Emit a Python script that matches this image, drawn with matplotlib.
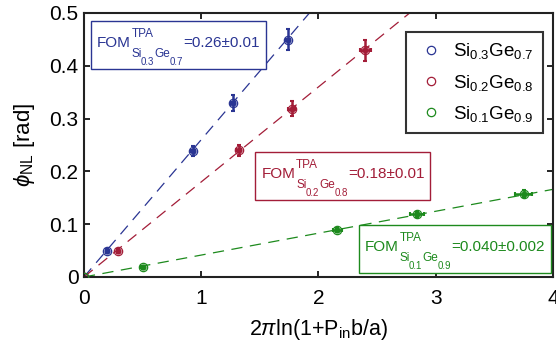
import numpy as np
import matplotlib
matplotlib.use("Agg")
import matplotlib.pyplot as plt
import matplotlib.transforms as mtransforms
from matplotlib.patches import Rectangle

plt.rcParams["font.family"] = ["Liberation Sans", "DejaVu Sans"]
plt.rcParams["mathtext.fontset"] = "custom"
plt.rcParams["mathtext.rm"] = "Liberation Sans"
plt.rcParams["mathtext.it"] = "Liberation Sans:italic"
plt.rcParams["mathtext.bf"] = "Liberation Sans:bold"

# data
labels = [r"Si$_{0.3}$Ge$_{0.7}$", r"Si$_{0.2}$Ge$_{0.8}$", r"Si$_{0.1}$Ge$_{0.9}$"]
colors = ["#2a3593", "#a31d38", "#1d8a1d"]

x_sige37 = [0.20, 0.93, 1.27, 1.74]
y_sige37 = [0.049, 0.239, 0.329, 0.449]
xerr_sige37 = [0.01, 0.02, 0.02, 0.02]
yerr_sige37 = [0.004, 0.010, 0.015, 0.020]

x_sige28 = [0.29, 1.32, 1.77, 2.40]
y_sige28 = [0.049, 0.240, 0.319, 0.429]
xerr_sige28 = [0.01, 0.02, 0.03, 0.05]
yerr_sige28 = [0.004, 0.010, 0.015, 0.019]

x_sige19 = [0.50, 2.16, 2.84, 3.75]
y_sige19 = [0.018, 0.089, 0.119, 0.158]
xerr_sige19 = [0.01, 0.04, 0.06, 0.07]
yerr_sige19 = [0.002, 0.004, 0.005, 0.006]

slopes = [0.26, 0.18, 0.0415]
fom_sub = [("0.3", "0.7"), ("0.2", "0.8"), ("0.1", "0.9")]
fom_val = [u"=0.26\u00b10.01", u"=0.18\u00b10.01", u"=0.040\u00b10.002"]
fom_anchor = [(0.0277, 0.870), (0.379, 0.374), (0.599, 0.0966)]

xs = [x_sige37, x_sige28, x_sige19]
ys = [y_sige37, y_sige28, y_sige19]
xerrs = [xerr_sige37, xerr_sige28, xerr_sige19]
yerrs = [yerr_sige37, yerr_sige28, yerr_sige19]

fig = plt.figure(figsize=(5.56, 3.5), dpi=100)
ax = fig.add_axes([0.151, 0.2086, 0.8436, 0.7543])
renderer = fig.canvas.get_renderer()


def put(txt, ax_xy, dx, dy, size, color):
    tr = mtransforms.offset_copy(ax.transAxes, fig=fig, x=dx, y=dy, units="dots")
    t = ax.text(ax_xy[0], ax_xy[1], txt, transform=tr, fontsize=size, color=color,
                ha="left", va="baseline", zorder=6)
    w = t.get_window_extent(renderer).width
    return t, w


def fom_box(anchor, color, s1, s2, val):
    # FOM^TPA_{Si_s1 Ge_s2}=val, built piece by piece like the MATLAB label
    _, w = put("FOM", anchor, 0, 0, 11, color)
    x = w + 0.5
    _, w_tpa = put("TPA", anchor, x, 10, 8.5, color)
    _, w = put("Si", anchor, x, -10, 8.5, color)
    xs_ = x + w - 1
    _, w = put(s1, anchor, xs_, -17.5, 7, color)
    xs_ += w + 0.5
    _, w = put("Ge", anchor, xs_, -10, 8.5, color)
    xs_ += w - 0.5
    _, w = put(s2, anchor, xs_, -17.5, 7, color)
    xs_ += w
    x_eq = max(xs_, x + w_tpa)
    _, w = put(val, anchor, x_eq, 0, 11, color)
    right = x_eq + w
    ox, oy = ax.transAxes.transform(anchor)
    inv = ax.transAxes.inverted()
    (x0, y0) = inv.transform((ox - 6.3, oy - 21.5))
    (x1, y1) = inv.transform((ox + right + 6, oy + 26.5))
    ax.add_patch(Rectangle((x0, y0), x1 - x0, y1 - y0, transform=ax.transAxes,
                           fc="white", ec=color, lw=1.0, zorder=5))


xfit = np.array([0, 4])
for i in range(3):
    c = colors[i]
    ax.plot(xfit, slopes[i] * xfit, color=c, lw=0.9, dashes=(9, 6), zorder=1)
    ax.errorbar(xs[i], ys[i], xerr=xerrs[i], yerr=yerrs[i], fmt="o", color=c,
                ms=3.5, elinewidth=1.8, capsize=1.5, capthick=1.5, zorder=3)
    ax.plot([0] + xs[i], [0] + ys[i], "o", mfc="none", mec=c, ms=6, mew=0.9,
            label=labels[i], zorder=4)
    fom_box(fom_anchor[i], c, fom_sub[i][0], fom_sub[i][1], fom_val[i])

ax.set_xlim(0, 4)
ax.set_ylim(0, 0.5)
ax.set_xticks([0, 1, 2, 3, 4])
ax.set_yticks([0, 0.1, 0.2, 0.3, 0.4, 0.5])
ax.set_yticklabels(["0", "0.1", "0.2", "0.3", "0.4", "0.5"])
ax.tick_params(direction="in", length=4, width=1.2, labelsize=15,
               top=True, right=True)
ax.tick_params(axis="x", pad=9)
ax.tick_params(axis="y", pad=4)
for s in ax.spines.values():
    s.set_linewidth(1.5)
    s.set_color("#222222")

ax.set_xlabel(r"2$\pi$ln(1+P$_{\rm in}$b/a)", fontsize=15.5, labelpad=6)
ax.set_ylabel(r"$\phi_{\rm NL}$ [rad]", fontsize=16, labelpad=9)

leg = ax.legend(loc="upper right", bbox_to_anchor=(0.979, 0.928), fontsize=13.5,
                frameon=True, fancybox=False, edgecolor="black", borderaxespad=0,
                handletextpad=0.4, handlelength=1.6, labelspacing=0.6,
                borderpad=0.5)
leg.get_frame().set_linewidth(1.5)
leg.set_zorder(7)

fig.savefig("out.png", dpi=100)
